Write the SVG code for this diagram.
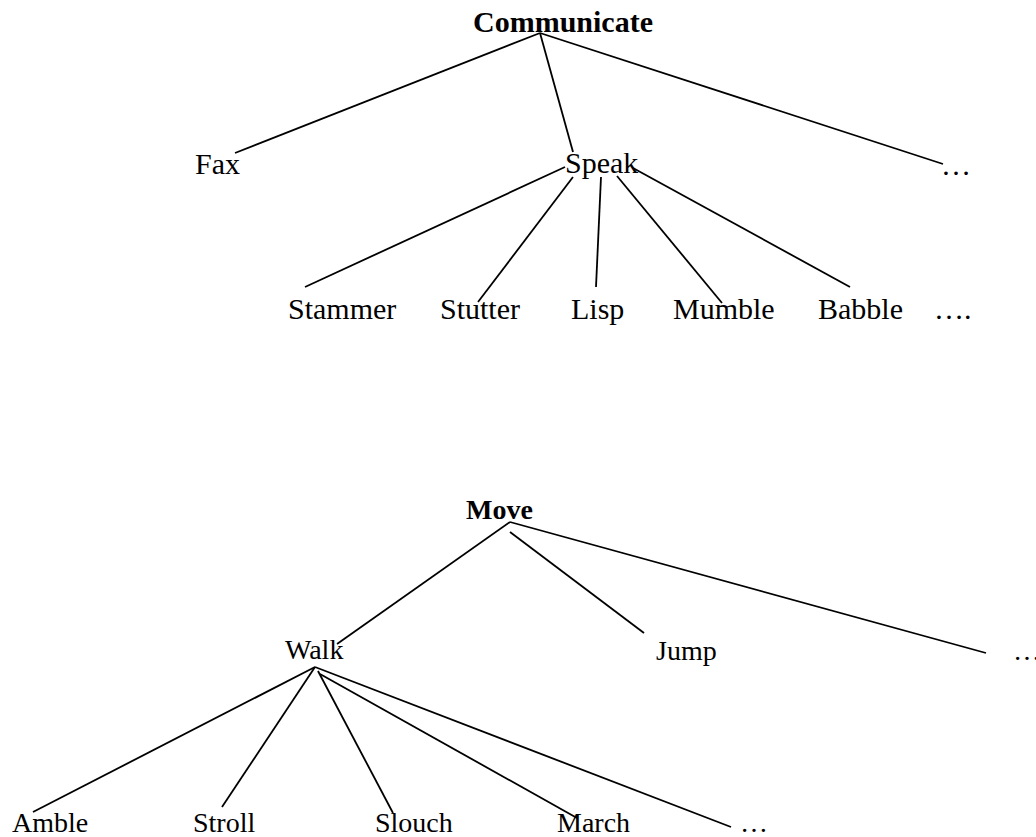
<svg xmlns="http://www.w3.org/2000/svg" width="1036" height="837" viewBox="0 0 1036 837">
<style>
  text { font-family: "Liberation Serif", "Times New Roman", serif; fill: #000; }
  .t { font-size: 30px; }
  .b { font-size: 28px; }
  .bold { font-weight: bold; }
  #connectors line { stroke: #000; stroke-width: 1.8; stroke-linecap: butt; }
</style>
<rect width="1036" height="837" fill="#fff"/>
<g id="connectors">
  <line x1="540" y1="33" x2="235" y2="153"/>
  <line x1="540" y1="33" x2="573" y2="152"/>
  <line x1="540" y1="33" x2="943" y2="164"/>
  <line x1="565" y1="167" x2="305" y2="287"/>
  <line x1="573" y1="177" x2="478" y2="302"/>
  <line x1="601" y1="177" x2="596" y2="287"/>
  <line x1="617" y1="176" x2="722" y2="303"/>
  <line x1="633" y1="168" x2="850" y2="287"/>
  <line x1="510" y1="522" x2="337" y2="644"/>
  <line x1="510" y1="532" x2="644" y2="633"/>
  <line x1="510" y1="522" x2="986" y2="653"/>
  <line x1="315" y1="667" x2="33" y2="812"/>
  <line x1="315" y1="667" x2="222" y2="807"/>
  <line x1="318" y1="671" x2="393" y2="813"/>
  <line x1="320" y1="674" x2="577" y2="818"/>
  <line x1="315" y1="667" x2="731" y2="827"/>
</g>
<g id="communicate"><text class="t bold" x="473" y="32">Communicate</text></g>
<g id="fax"><text class="t" x="195" y="174">Fax</text></g>
<g id="speak"><text class="t" x="565" y="173">Speak</text></g>
<g id="comm-more"><text class="t" x="941" y="175">…</text></g>
<g id="stammer"><text class="t" x="288" y="319">Stammer</text></g>
<g id="stutter"><text class="t" x="440" y="319">Stutter</text></g>
<g id="lisp"><text class="t" x="571" y="319">Lisp</text></g>
<g id="mumble"><text class="t" x="673" y="319">Mumble</text></g>
<g id="babble"><text class="t" x="818" y="319">Babble</text></g>
<g id="speak-more"><text class="t" x="934" y="319">….</text></g>
<g id="move"><text class="b bold" x="466" y="519">Move</text></g>
<g id="walk"><text class="b" x="285" y="659">Walk</text></g>
<g id="jump"><text class="b" x="656" y="660">Jump</text></g>
<g id="move-more"><text class="b" x="1013" y="660">…</text></g>
<g id="amble"><text class="b" x="12" y="832">Amble</text></g>
<g id="stroll"><text class="b" x="193" y="832">Stroll</text></g>
<g id="slouch"><text class="b" x="375" y="832">Slouch</text></g>
<g id="march"><text class="b" x="557" y="832">March</text></g>
<g id="walk-more"><text class="b" x="740" y="832">…</text></g>
</svg>
